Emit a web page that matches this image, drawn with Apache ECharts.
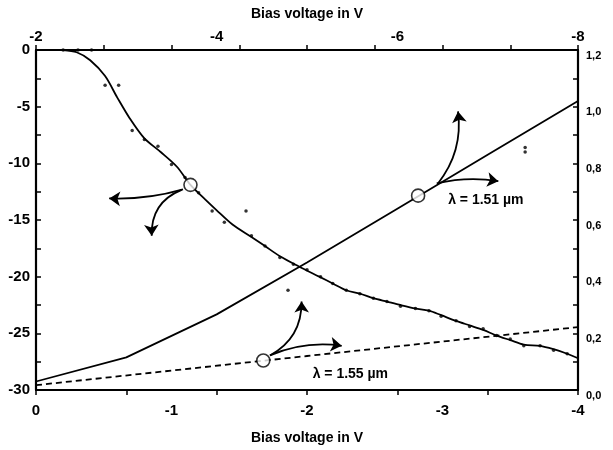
<!DOCTYPE html>
<html>
<head>
<meta charset="utf-8">
<script src="https://cdn.jsdelivr.net/npm/echarts@6/dist/echarts.min.js"></script>
<style>
  html, body { margin: 0; padding: 0; background: #fff; }
  #chart { width: 613px; height: 450px; }
</style>
</head>
<body>
<div id="chart"></div>
<script>
// Photocurrent change vs. bias voltage (bottom / left axes): fitted curve and measured points
const responseCurve = [
  [-0.20, 0.0], [-0.30, -0.2], [-0.40, -0.9], [-0.51, -2.3], [-0.60, -4.2],
  [-0.69, -6.0], [-0.80, -7.8], [-0.92, -9.0], [-1.04, -10.3], [-1.14, -11.9],
  [-1.25, -13.2], [-1.33, -14.1], [-1.45, -15.4], [-1.59, -16.5], [-1.69, -17.3],
  [-1.80, -18.2], [-1.94, -19.1], [-2.09, -20.0], [-2.19, -20.6], [-2.29, -21.2],
  [-2.39, -21.5], [-2.49, -21.9], [-2.59, -22.2], [-2.69, -22.5], [-2.80, -22.8],
  [-2.90, -23.0], [-2.99, -23.4], [-3.10, -23.9], [-3.20, -24.3], [-3.30, -24.7],
  [-3.40, -25.2], [-3.50, -25.6], [-3.60, -26.0], [-3.72, -26.1], [-3.82, -26.4],
  [-3.92, -26.8], [-4.00, -27.2]
];
const responseDots = [
  [-0.20, 0.0], [-0.31, 0.0], [-0.41, 0.0], [-0.51, -3.1], [-0.61, -3.1],
  [-0.71, -7.1], [-0.80, -7.9], [-0.90, -8.5], [-1.00, -10.1], [-1.10, -11.25],
  [-1.20, -12.6], [-1.30, -14.2], [-1.39, -15.2], [-1.55, -14.2], [-1.59, -16.4],
  [-1.69, -17.3], [-1.80, -18.3], [-1.86, -21.2], [-1.90, -18.9], [-2.00, -19.4],
  [-2.10, -20.0], [-2.19, -20.6], [-2.29, -21.2], [-2.39, -21.5], [-2.49, -21.9],
  [-2.59, -22.2], [-2.69, -22.6], [-2.80, -22.8], [-2.90, -23.0], [-2.99, -23.5],
  [-3.10, -23.9], [-3.20, -24.4], [-3.30, -24.6], [-3.40, -25.2], [-3.50, -25.5],
  [-3.61, -8.6], [-3.61, -9.0], [-3.60, -26.1], [-3.72, -26.1], [-3.82, -26.5],
  [-3.92, -26.8]
];

// Responsivity vs. bias voltage (top / right axes)
const line151 = [[-2, 0.03], [-3, 0.115], [-4, 0.267], [-5, 0.45], [-6, 0.64], [-7, 0.83], [-8, 1.02]];
const line155 = [[-2, 0.017], [-5, 0.12], [-8, 0.222]];

// Marked operating points
const markerBottom = [[-1.14, -11.9]];
const markerTop = [[-6.23, 0.686], [-4.516, 0.104]];

// Curved arrows from the marked points toward the axes they refer to
const arrowsBottom = [
  { from: [-1.085, -12.3], to: [-0.54, -13.1], bend: 0.08 },
  { from: [-1.075, -12.34], to: [-0.854, -16.39], bend: -0.35 }
];
const arrowsTop = [
  { from: [-6.436, 0.729], to: [-7.118, 0.737], bend: 0.1 },
  { from: [-6.45, 0.729], to: [-6.672, 0.983], bend: -0.21 },
  { from: [-4.59, 0.122], to: [-5.384, 0.156], bend: 0.14 },
  { from: [-4.59, 0.122], to: [-4.94, 0.3125], bend: -0.3 }
];

// Wavelength captions, anchored in top/right axis units
const curveLabels = [
  { text: 'λ = 1.51 µm', at: [-6.98, 0.67] },
  { text: 'λ = 1.55 µm', at: [-5.48, 0.056] }
];

const FONT = "'Liberation Sans', Arial, sans-serif";
const axisLineStyle = { show: true, lineStyle: { color: '#000', width: 2.2 } };
const tickStyle = { show: true, inside: true, length: 5, lineStyle: { color: '#000', width: 1.5 } };
const labelStyle = { color: '#000', fontFamily: FONT, fontWeight: 'bold', fontSize: 15 };
const titleStyle = { color: '#000', fontFamily: FONT, fontWeight: 'bold', fontSize: 14 };

const chart = echarts.init(document.getElementById('chart'), null, { renderer: 'canvas' });

function arrowData(list) {
  return list.map(a => ({ coords: [a.from, a.to], lineStyle: { curveness: a.bend } }));
}

chart.setOption({
  animation: false,
  backgroundColor: '#fff',
  grid: { left: 36, right: 35, top: 50, bottom: 55, containLabel: false },
  xAxis: [
    {
      type: 'value', position: 'bottom', min: -4, max: 0, interval: 0.5, inverse: true,
      axisLine: axisLineStyle, axisTick: tickStyle,
      axisLabel: Object.assign({}, labelStyle, {
        margin: 13,
        formatter: v => (Math.abs(v - Math.round(v)) < 1e-6 ? String(Math.round(v)) : '')
      }),
      splitLine: { show: false },
      name: 'Bias voltage in V', nameLocation: 'middle', nameGap: 41, nameTextStyle: titleStyle
    },
    {
      type: 'value', position: 'top', min: -8, max: -2, interval: 1, inverse: true,
      axisLine: axisLineStyle, axisTick: tickStyle,
      axisLabel: Object.assign({}, labelStyle, {
        margin: 6,
        formatter: v => (Math.round(v) % 2 === 0 ? String(Math.round(v)) : '')
      }),
      splitLine: { show: false },
      name: 'Bias voltage in V', nameLocation: 'middle', nameGap: 29, nameTextStyle: titleStyle
    }
  ],
  yAxis: [
    {
      type: 'value', position: 'left', min: -30, max: 0, interval: 2.5,
      axisLine: axisLineStyle, axisTick: tickStyle,
      axisLabel: Object.assign({}, labelStyle, {
        margin: 6,
        formatter: v => (Math.round(v * 2) % 10 === 0 ? String(Math.round(v)) : '')
      }),
      splitLine: { show: false }
    },
    {
      type: 'value', position: 'right', min: 0, max: 1.2, interval: 0.1,
      axisLine: axisLineStyle, axisTick: tickStyle,
      axisLabel: Object.assign({}, labelStyle, {
        margin: 8, fontSize: 11, verticalAlign: 'top',
        formatter: v => (Math.round(v * 10) % 2 === 0 ? v.toFixed(1).replace('.', ',') : '')
      }),
      splitLine: { show: false }
    }
  ],
  series: [
    {
      type: 'line', xAxisIndex: 0, yAxisIndex: 0, data: responseCurve,
      smooth: 0.3, showSymbol: false,
      lineStyle: { color: '#000', width: 1.8 }
    },
    {
      type: 'scatter', xAxisIndex: 0, yAxisIndex: 0, data: responseDots,
      symbolSize: 3.5, itemStyle: { color: '#000' }
    },
    {
      type: 'line', xAxisIndex: 1, yAxisIndex: 1, data: line151,
      showSymbol: false, lineStyle: { color: '#000', width: 1.8 }
    },
    {
      type: 'line', xAxisIndex: 1, yAxisIndex: 1, data: line155,
      showSymbol: false, lineStyle: { color: '#000', width: 1.8, type: [6, 4] }
    },
    {
      type: 'lines', coordinateSystem: 'cartesian2d', xAxisIndex: 0, yAxisIndex: 0,
      data: arrowData(arrowsBottom), symbol: ['none', 'arrow'], symbolSize: 11,
      lineStyle: { color: '#000', width: 1.8, opacity: 1 }, z: 4
    },
    {
      type: 'lines', coordinateSystem: 'cartesian2d', xAxisIndex: 1, yAxisIndex: 1,
      data: arrowData(arrowsTop), symbol: ['none', 'arrow'], symbolSize: 11,
      lineStyle: { color: '#000', width: 1.8, opacity: 1 }, z: 4
    },
    {
      type: 'scatter', xAxisIndex: 0, yAxisIndex: 0, data: markerBottom,
      symbol: 'circle', symbolSize: 13, z: 6,
      itemStyle: { color: '#fff', borderColor: '#000', borderWidth: 1.6 }
    },
    {
      type: 'scatter', xAxisIndex: 1, yAxisIndex: 1, data: markerTop,
      symbol: 'circle', symbolSize: 13, z: 6,
      itemStyle: { color: '#fff', borderColor: '#000', borderWidth: 1.6 }
    }
  ]
});

// Captions placed through the top/right axis scales
chart.setOption({
  graphic: curveLabels.map(l => {
    const p = chart.convertToPixel({ xAxisIndex: 1, yAxisIndex: 1 }, l.at);
    return {
      type: 'text', x: p[0], y: p[1], z: 10,
      style: {
        text: l.text, fill: '#000', font: "bold 14px 'Liberation Sans', Arial, sans-serif",
        align: 'center', verticalAlign: 'middle'
      }
    };
  })
});
</script>
</body>
</html>
